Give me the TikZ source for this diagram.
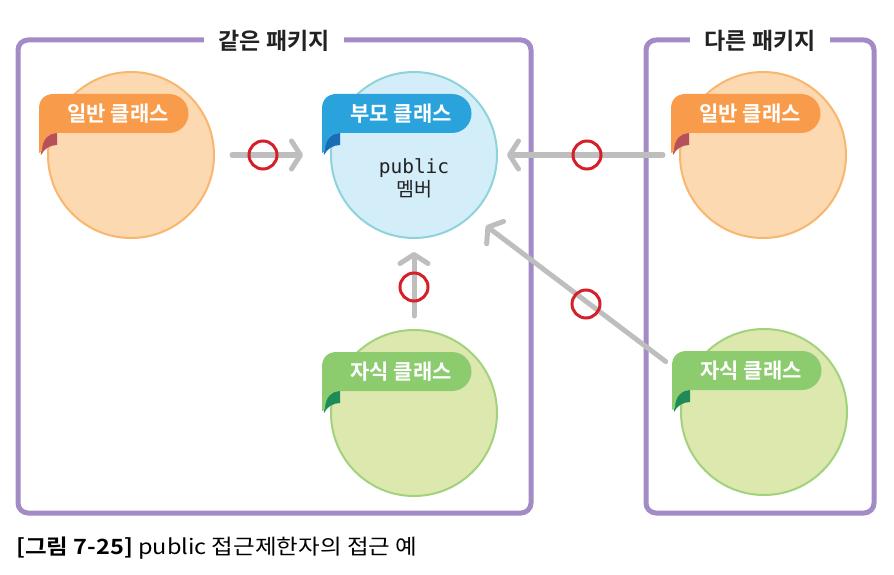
\documentclass[tikz,border=0pt]{standalone}
\usepackage{fontspec}
\setmainfont{Noto Sans CJK KR}[BoldFont={Noto Sans CJK KR Bold}]
\newfontfamily\monofont{DejaVu Sans Mono}
\newfontfamily\capfont{Noto Sans CJK KR}[BoldFont={Noto Sans CJK KR Bold},FakeStretch=1.12]
\usetikzlibrary{arrows.meta}
\definecolor{pkgline}{HTML}{A38BC6}
\definecolor{orfill}{HTML}{FCD9B1}
\definecolor{orline}{HTML}{F8B66E}
\definecolor{ormain}{HTML}{F89C4B}
\definecolor{ordark}{HTML}{B65159}
\definecolor{blfill}{HTML}{D4EEF9}
\definecolor{blline}{HTML}{8ED3DC}
\definecolor{blmain}{HTML}{2AA3DC}
\definecolor{bldark}{HTML}{1A6DB5}
\definecolor{grfill}{HTML}{DDE8AF}
\definecolor{grline}{HTML}{A3D27C}
\definecolor{grmain}{HTML}{8DCB6F}
\definecolor{grdark}{HTML}{1E8B58}
\definecolor{arrowgray}{HTML}{BEBEBE}
\definecolor{okred}{HTML}{D52029}
\definecolor{titletext}{HTML}{222222}
\newcommand\myribbon[6]{%
  \begin{scope}[shift={(#2,#3)}]
    \fill[#5] (-90,0) .. controls (-91,-12) and (-85,-22) .. (-74,-22) -- (-74,-10) .. controls (-81,-10) and (-87,-6) .. (-90,0) -- cycle;
    \fill[#4] (-92,-2) -- (-92,-46) .. controls (-92,-56) and (-86,-61) .. (-77,-61) -- (38,-61) arc[start angle=-90,end angle=90,radius=19.5] -- (-74,-22) .. controls (-84,-22) and (-89,-14) .. (-89,-4) -- cycle;
    \node[ribtext] (#1) at (-13,-41) {#6};
  \end{scope}}
\begin{document}
\begin{tikzpicture}[x=1pt,y=-1pt,
  pkgbox/.style={draw=pkgline, line width=5pt, rounded corners=10pt, inner sep=0pt},
  pkgtitle/.style={fill=white, text=titletext, inner xsep=14pt, inner ysep=3pt, font=\bfseries\fontsize{23}{26}\selectfont},
  cls/.style={circle, line width=2pt, minimum size=166pt, inner sep=0pt},
  ribtext/.style={text=white, inner sep=0pt, font=\bfseries\fontsize{21}{24}\selectfont},
  conn/.style={draw=arrowgray, line width=5pt, line cap=round, -{Straight Barb[length=9pt,width=28pt,round]}},
  okmark/.style={circle, draw=okred, line width=3pt, minimum size=28pt, inner sep=0pt}]
\useasboundingbox (0,0) rectangle (894,575);
% packages
\node[pkgbox, minimum width=513pt, minimum height=473pt] (same) at (274.5,276.5) {};
\node[pkgbox, minimum width=228pt, minimum height=473pt] (other) at (760,276.5) {};
\node[pkgtitle] (t1) at (274,41) {같은 패키지};
\node[pkgtitle] (t2) at (760,41) {다른 패키지};
% classes
\node[cls, fill=orfill, draw=orline] (gen1) at (131,155) {};
\node[cls, fill=blfill, draw=blline] (parent) at (414,155) {};
\node[cls, fill=orfill, draw=orline] (gen2) at (763,155) {};
\node[cls, fill=grfill, draw=grline] (child1) at (414,413) {};
\node[cls, fill=grfill, draw=grline] (child2) at (764,412) {};
\myribbon{l1}{131}{155}{ormain}{ordark}{일반 클래스}
\myribbon{l2}{414}{155}{blmain}{bldark}{부모 클래스}
\myribbon{l3}{763}{155}{ormain}{ordark}{일반 클래스}
\myribbon{l4}{414}{413}{grmain}{grdark}{자식 클래스}
\myribbon{l5}{764}{412}{grmain}{grdark}{자식 클래스}
\node[align=center, text=titletext, inner sep=0pt, font=\fontsize{19.5}{23}\selectfont] (pm) at (414,178) {{\monofont public}\\멤버};
% connectors
\draw[conn, shorten <=17pt, shorten >=27pt] (gen1) -- (parent);
\draw[conn, shorten <=16pt, shorten >=9pt] (gen2) -- (parent);
\draw[conn, shorten <=13pt, shorten >=13pt] (child1) -- (parent);
\draw[conn, shorten <=27pt, shorten >=17pt] (child2.156) -- (parent.-46);
% marks
\node[okmark] (o1) at (263,155) {};
\node[okmark] (o2) at (587,155) {};
\node[okmark] (o3) at (414,287) {};
\node[okmark] (o4) at (586,304) {};
% caption
\node[anchor=west, inner sep=0pt, text=black, font=\capfont\fontsize{21}{24}\selectfont] (cap) at (16,548) {\textbf{[그림 7-25]} public 접근제한자의 접근 예};
\end{tikzpicture}
\end{document}
